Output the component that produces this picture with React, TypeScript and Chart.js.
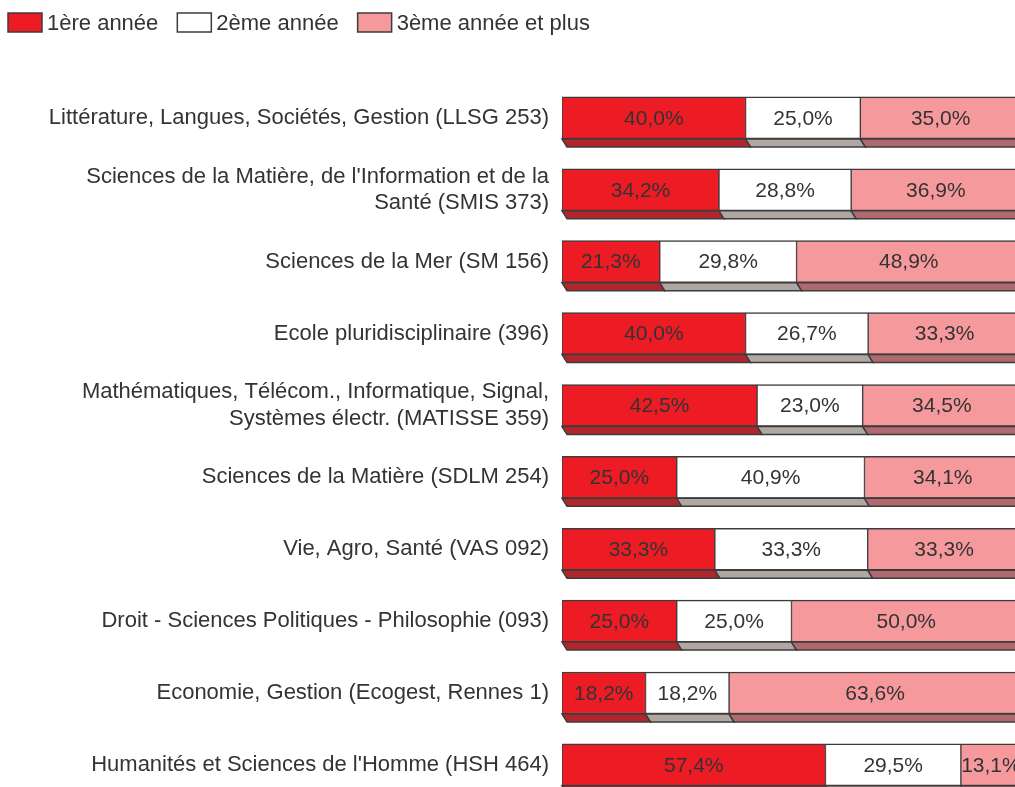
import React, { useEffect, useRef } from "react";
import { Chart, registerables } from "chart.js";

Chart.register(...registerables);

const categories: (string | string[])[] = [
  "Littérature, Langues, Sociétés, Gestion (LLSG 253)",
  ["Sciences de la Matière, de l'Information et de la", "Santé (SMIS 373)"],
  "Sciences de la Mer (SM 156)",
  "Ecole pluridisciplinaire (396)",
  ["Mathématiques, Télécom., Informatique, Signal,", "Systèmes électr. (MATISSE 359)"],
  "Sciences de la Matière (SDLM 254)",
  "Vie, Agro, Santé (VAS 092)",
  "Droit - Sciences Politiques - Philosophie (093)",
  "Economie, Gestion (Ecogest, Rennes 1)",
  "Humanités et Sciences de l'Homme (HSH 464)",
];

const seriesNames = ["1ère année", "2ème année", "3ème année et plus"];
const firstYear = [40.0, 34.2, 21.3, 40.0, 42.5, 25.0, 33.3, 25.0, 18.2, 57.4];
const secondYear = [25.0, 28.8, 29.8, 26.7, 23.0, 40.9, 33.3, 25.0, 18.2, 29.5];
const thirdYear = [35.0, 36.9, 48.9, 33.3, 34.5, 34.1, 33.3, 50.0, 63.6, 13.1];

const faceColors = ["#ed1c24", "#ffffff", "#f5999d"];
const sideColors = ["#b1262c", "#b0a7a3", "#b0696e"];
const OUTLINE = "#3c3c3c";
const TEXT = "#333333";
const FONT = "'Liberation Sans', Arial, Helvetica, sans-serif";

const fmt = (v: number) => v.toFixed(1).replace(".", ",") + "%";

const bar3dPlugin = {
  id: "bar3d",
  afterDatasetsDraw(chart: any) {
    const ctx = chart.ctx as CanvasRenderingContext2D;
    const DX = 5;
    const DY = 8;
    ctx.save();
    chart.data.datasets.forEach((_ds: any, i: number) => {
      const meta = chart.getDatasetMeta(i);
      meta.data.forEach((el: any) => {
        const { x, base, y, height } = el.getProps(["x", "base", "y", "height"], true);
        const x0 = Math.min(x, base);
        const x1 = Math.max(x, base);
        const yb = y + height / 2;
        ctx.beginPath();
        ctx.moveTo(x0, yb);
        ctx.lineTo(x1, yb);
        ctx.lineTo(x1 + DX, yb + DY);
        ctx.lineTo(x0 + DX, yb + DY);
        ctx.closePath();
        ctx.fillStyle = sideColors[i];
        ctx.fill();
        ctx.lineWidth = 1.5;
        ctx.strokeStyle = OUTLINE;
        ctx.stroke();
      });
    });
    ctx.font = `21px ${FONT}`;
    ctx.fillStyle = TEXT;
    ctx.textAlign = "center";
    ctx.textBaseline = "middle";
    chart.data.datasets.forEach((ds: any, i: number) => {
      const meta = chart.getDatasetMeta(i);
      meta.data.forEach((el: any, j: number) => {
        const { x, base, y } = el.getProps(["x", "base", "y"], true);
        ctx.fillText(fmt(ds.data[j]), (x + base) / 2, y + 1);
      });
    });
    ctx.restore();
  },
};

const legendPlugin = {
  id: "customLegend",
  afterDraw(chart: any) {
    const ctx = chart.ctx as CanvasRenderingContext2D;
    ctx.save();
    ctx.font = `22px ${FONT}`;
    ctx.textBaseline = "middle";
    ctx.textAlign = "left";
    let x = 8;
    const top = 13;
    const bw = 34;
    const bh = 19;
    chart.data.datasets.forEach((ds: any) => {
      ctx.fillStyle = ds.backgroundColor;
      ctx.fillRect(x, top, bw, bh);
      ctx.lineWidth = 1.5;
      ctx.strokeStyle = OUTLINE;
      ctx.strokeRect(x, top, bw, bh);
      ctx.fillStyle = TEXT;
      const tx = x + bw + 5;
      ctx.fillText(ds.label, tx, top + bh / 2 + 1);
      x = tx + ctx.measureText(ds.label).width + 19;
    });
    ctx.restore();
  },
};

export default function App() {
  const ref = useRef<HTMLCanvasElement | null>(null);

  useEffect(() => {
    if (!ref.current) return;
    const values = [firstYear, secondYear, thirdYear];
    const chart = new Chart(ref.current, {
      type: "bar",
      data: {
        labels: categories as any,
        datasets: seriesNames.map((name, i) => ({
          label: name,
          data: values[i],
          backgroundColor: faceColors[i],
          borderColor: OUTLINE,
          borderWidth: { top: 1.5, bottom: 1.5, left: 1, right: 1 },
          borderSkipped: false,
          barThickness: 42,
        })),
      },
      options: {
        indexAxis: "y",
        responsive: false,
        animation: false,
        layout: { padding: { left: 0, right: 3, top: 0, bottom: 0 } },
        plugins: {
          legend: { display: false },
          tooltip: { enabled: false },
        },
        scales: {
          x: {
            stacked: true,
            position: "top",
            min: 0,
            max: 100,
            ticks: { display: false },
            grid: { display: false, drawTicks: false },
            border: { display: false },
            afterFit: (s: any) => {
              s.height = 82;
            },
          },
          y: {
            stacked: true,
            ticks: {
              padding: 13,
              color: TEXT,
              font: { family: FONT, size: 22, lineHeight: 1.2 },
            },
            grid: { display: false, drawTicks: false },
            border: { display: false },
            afterFit: (s: any) => {
              s.width = 562;
            },
          },
        },
      },
      plugins: [bar3dPlugin, legendPlugin],
    });
    return () => chart.destroy();
  }, []);

  return (
    <div
      style={{
        position: "fixed",
        left: 0,
        top: 0,
        width: 1015,
        height: 787,
        overflow: "hidden",
        background: "#ffffff",
      }}
    >
      <canvas ref={ref} width={1024} height={827} style={{ display: "block" }} />
    </div>
  );
}
